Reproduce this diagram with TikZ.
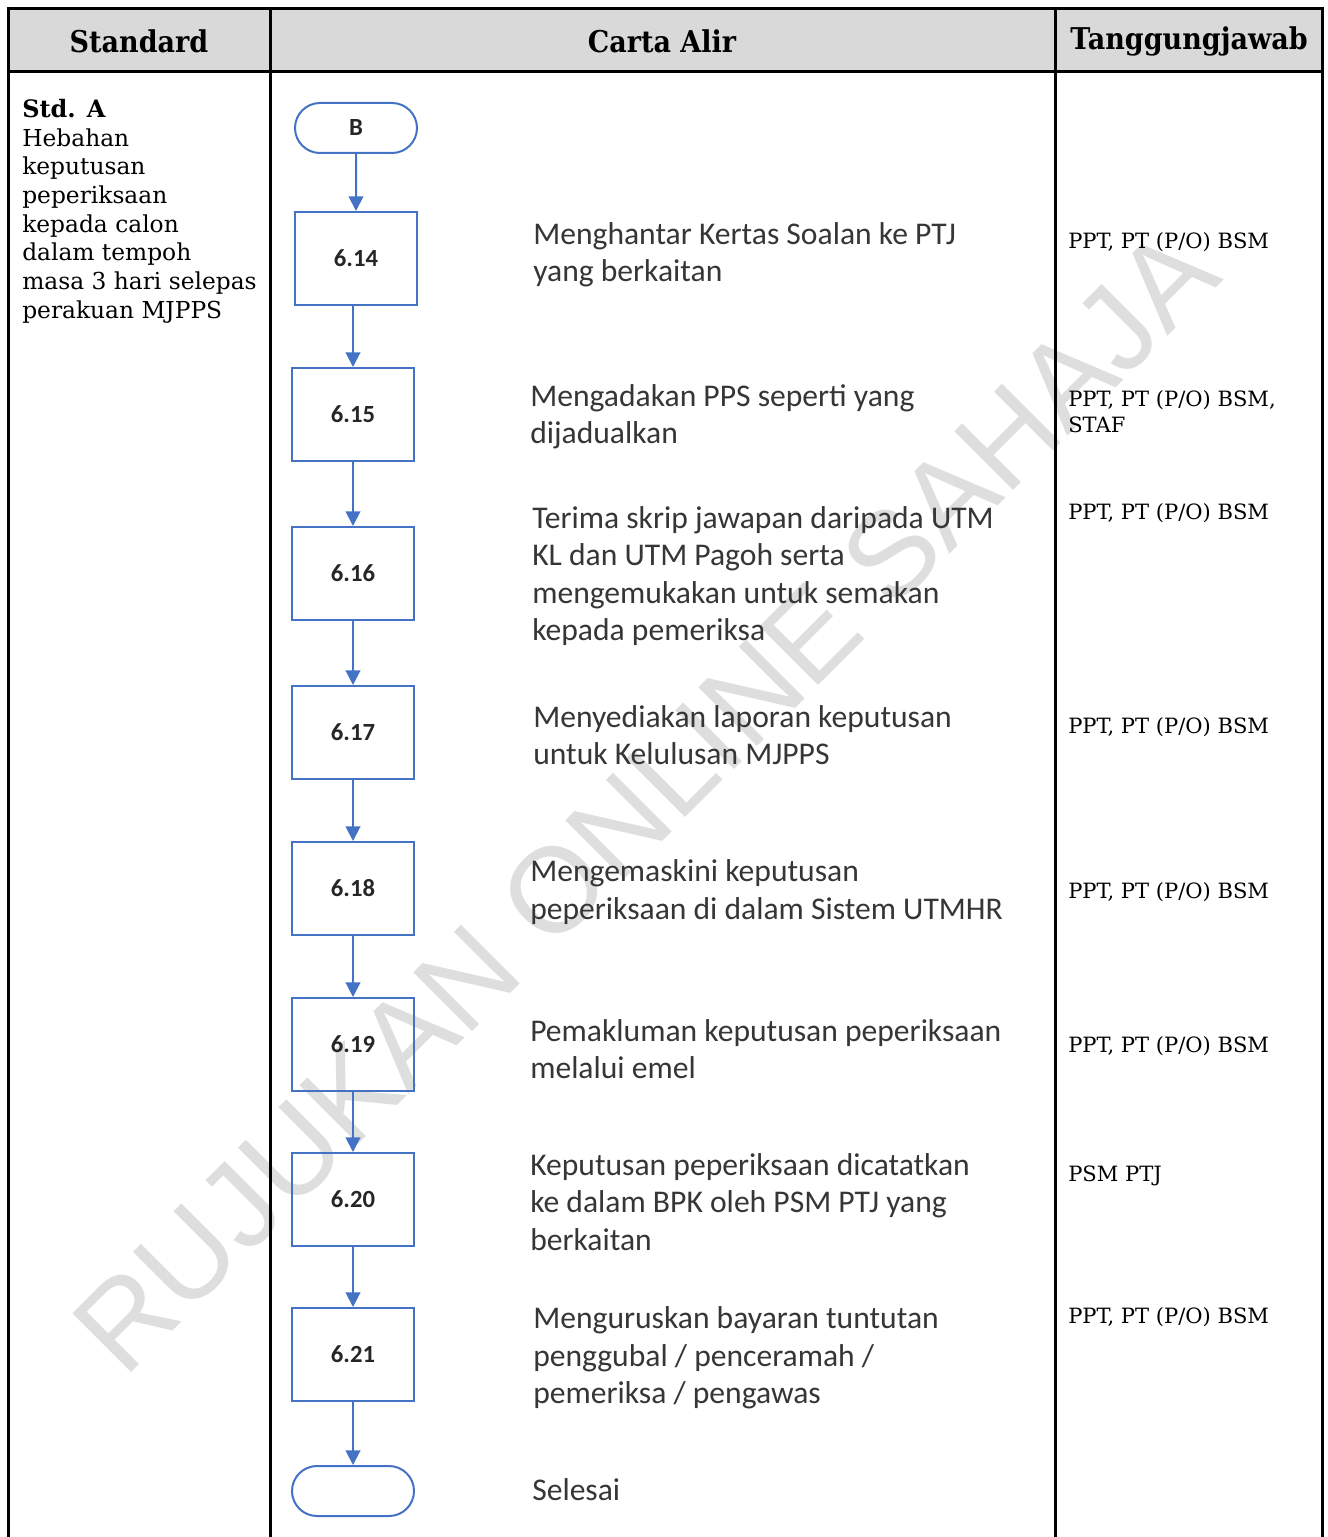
\documentclass[tikz,border=0pt]{standalone}
\usepackage{fontspec}
\usetikzlibrary{shapes.misc,arrows.meta}
\newfontfamily\hdrfont[FakeStretch=0.9]{DejaVu Serif}
\newfontfamily\serfont{DejaVu Serif}
\newfontfamily\calfont{Carlito}
\newfontfamily\wmfont{Liberation Sans}
\definecolor{flowblue}{HTML}{4472C4}
\definecolor{hdrgray}{HTML}{D9D9D9}
\definecolor{txtgray}{HTML}{363636}
\definecolor{wmgray}{HTML}{DEDEDE}
\begin{document}
\begin{tikzpicture}[x=0.75pt,y=-0.75pt,
  tbl/.style={line width=2.25pt, draw=black},
  stepbox/.style={draw=flowblue, line width=1.5pt, fill=none, minimum width=91.5pt, minimum height=69.75pt, inner sep=0pt, font=\calfont\bfseries\fontsize{18.5}{22}\selectfont, text=black!85},
  termbox/.style={draw=flowblue, line width=1.5pt, rounded rectangle, minimum width=91.5pt, minimum height=37.5pt, inner sep=0pt, font=\calfont\bfseries\fontsize{18.5}{22}\selectfont, text=black!85},
  flow/.style={draw=flowblue, line width=1.5pt, -{Triangle[length=11pt,width=11pt]}},
  desc/.style={anchor=west, align=left, inner sep=0pt, font=\calfont\fontsize{23.7}{28}\selectfont, text=txtgray},
  resp/.style={anchor=west, align=left, inner sep=0pt, font=\serfont\fontsize{15.8}{19.5}\selectfont, text=black},
  hdr/.style={inner sep=0pt, font=\hdrfont\bfseries\fontsize{22.5}{27}\selectfont, text=black}]
\useasboundingbox (0,0) rectangle (1327,1537);
\fill[white] (0,0) rectangle (1327,1537);
% watermark
\node[rotate=45, text=wmgray, inner sep=0pt, font=\wmfont\fontsize{90.5}{90.5}\selectfont] (wm) at (645,800) {RUJUKAN ONLINE SAHAJA};
% table
\fill[hdrgray] (8,9) rectangle (1322,72);
\draw[tbl] (8,1537) -- (8,9) -- (1322,9) -- (1322,1537);
\draw[tbl] (8,72) -- (1322,72);
\draw[tbl] (270,9) -- (270,1537);
\draw[tbl] (1055,9) -- (1055,1537);
% headers
\node[hdr] (h1) at (139,41) {Standard};
\node[hdr] (h2) at (662,41) {Carta Alir};
\node[hdr] (h3) at (1189,41) {Tanggungjawab};
% standard text
\node[anchor=north west, align=left, inner sep=0pt, font=\serfont\fontsize{17.5}{21.5}\selectfont] (std) at (22,99)
 {{\bfseries\fontsize{18}{21.5}\selectfont Std. A}\\Hebahan\\keputusan\\peperiksaan\\kepada calon\\dalam tempoh\\masa 3 hari selepas\\perakuan MJPPS};
% flow nodes
\node[termbox] (b) at (356,128) {B};
\node[stepbox] (n614) at (356,258.5) {6.14};
\node[stepbox] (n615) at (353,414.5) {6.15};
\node[stepbox] (n616) at (353,573.5) {6.16};
\node[stepbox] (n617) at (353,732.5) {6.17};
\node[stepbox] (n618) at (353,888.5) {6.18};
\node[stepbox] (n619) at (353,1044.5) {6.19};
\node[stepbox] (n620) at (353,1199.5) {6.20};
\node[stepbox] (n621) at (353,1354.5) {6.21};
\node[termbox] (end) at (353,1491) {};
% arrows
\draw[flow] (b) -- (n614);
\draw[flow] (n614.south -| n615.north) -- (n615.north);
\draw[flow] (n615) -- (n616);
\draw[flow] (n616) -- (n617);
\draw[flow] (n617) -- (n618);
\draw[flow] (n618) -- (n619);
\draw[flow] (n619) -- (n620);
\draw[flow] (n620) -- (n621);
\draw[flow] (n621) -- (end);
% descriptions
\node[desc] (d614) at (533,255) {Menghantar Kertas Soalan ke PTJ\\yang berkaitan};
\node[desc] (d615) at (530,417) {Mengadakan PPS seperti yang\\dijadualkan};
\node[desc] (d616) at (532,576) {Terima skrip jawapan daripada UTM\\KL dan UTM Pagoh serta\\mengemukakan untuk semakan\\kepada pemeriksa};
\node[desc] (d617) at (533,735) {Menyediakan laporan keputusan\\untuk Kelulusan MJPPS};
\node[desc] (d618) at (530,892) {Mengemaskini keputusan\\peperiksaan di dalam Sistem UTMHR};
\node[desc] (d619) at (530,1049) {Pemakluman keputusan peperiksaan\\melalui emel};
\node[desc] (d620) at (530,1202) {Keputusan peperiksaan dicatatkan\\ke dalam BPK oleh PSM PTJ yang\\berkaitan};
\node[desc] (d621) at (533,1358) {Menguruskan bayaran tuntutan\\penggubal / penceramah /\\pemeriksa / pengawas};
\node[desc] (dend) at (532,1490) {Selesai};
% responsibilities
\node[resp] (r614) at (1068,242) {PPT, PT (P/O) BSM};
\node[resp] (r615) at (1068,412) {PPT, PT (P/O) BSM,\\STAF};
\node[resp] (r616) at (1068,513) {PPT, PT (P/O) BSM};
\node[resp] (r617) at (1068,727) {PPT, PT (P/O) BSM};
\node[resp] (r618) at (1068,892) {PPT, PT (P/O) BSM};
\node[resp] (r619) at (1068,1046) {PPT, PT (P/O) BSM};
\node[resp] (r620) at (1068,1176) {PSM PTJ};
\node[resp] (r621) at (1068,1317) {PPT, PT (P/O) BSM};
\end{tikzpicture}
\end{document}
